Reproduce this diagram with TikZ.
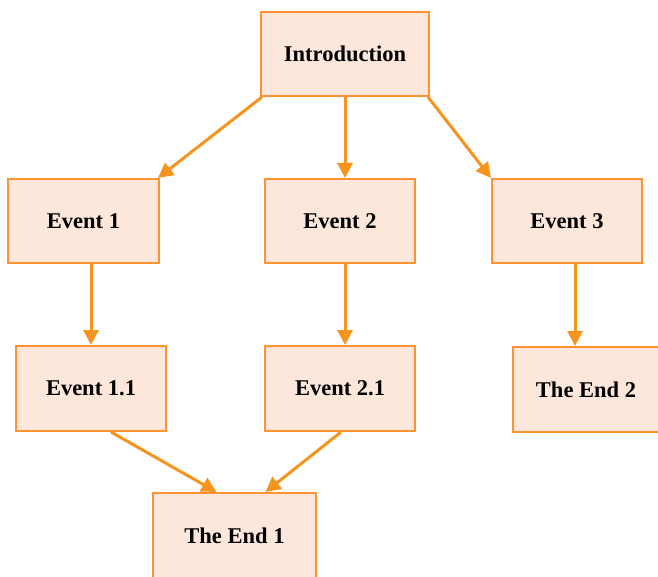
\documentclass[tikz,border=0pt]{standalone}
\usepackage{fontspec}
\setmainfont{Liberation Serif}
\usetikzlibrary{arrows.meta}
\definecolor{boxfill}{HTML}{FDE6DA}
\definecolor{boxline}{HTML}{FF9333}
\definecolor{arr}{HTML}{F7941D}
\begin{document}
\begin{tikzpicture}[x=1pt,y=-1pt,
  box/.style={draw=boxline,fill=boxfill,line width=2pt,anchor=north west,inner sep=0pt,
    font=\fontsize{22.5}{26}\selectfont\bfseries},
  link/.style={draw=arr,line width=3pt,-{Triangle[length=15pt,width=15pt]}}]
\useasboundingbox (0,0) rectangle (658,577);
\node[box,minimum width=168pt,minimum height=84pt] (intro) at (260,11) {Introduction};
\node[box,minimum width=151pt,minimum height=84pt] (e1) at (7,178) {Event 1};
\node[box,minimum width=150pt,minimum height=84pt] (e2) at (264,178) {Event 2};
\node[box,minimum width=150pt,minimum height=84pt] (e3) at (491,178) {Event 3};
\node[box,minimum width=150pt,minimum height=85pt] (e11) at (15,345) {Event 1.1};
\node[box,minimum width=150pt,minimum height=85pt] (e21) at (264,345) {Event 2.1};
\node[box,minimum width=146pt,minimum height=85pt] (end2) at (512,346) {The End 2};
\node[box,minimum width=163pt,minimum height=86pt] (end1) at (152,492) {The End 1};
\draw[link] ([shift={(2,0)}]intro.south west) -- ([shift={(-2,0)}]e1.north east);
\draw[link] (intro.south) -- (intro.south |- e2.north);
\draw[link] ([shift={(-2,0)}]intro.south east) -- ([shift={(0,0)}]e3.north west);
\draw[link] (e11.north |- e1.south) -- (e11.north);
\draw[link] ([xshift=5pt]e2.south) -- ([xshift=5pt]e21.north);
\draw[link] ([xshift=8pt]e3.south) -- ([xshift=8pt]e3.south |- end2.north);
\draw[link] ([xshift=20pt]e11.south) -- ([xshift=-18pt]end1.north);
\draw[link] ([xshift=1pt]e21.south) -- ([xshift=31pt]end1.north);
\end{tikzpicture}
\end{document}
